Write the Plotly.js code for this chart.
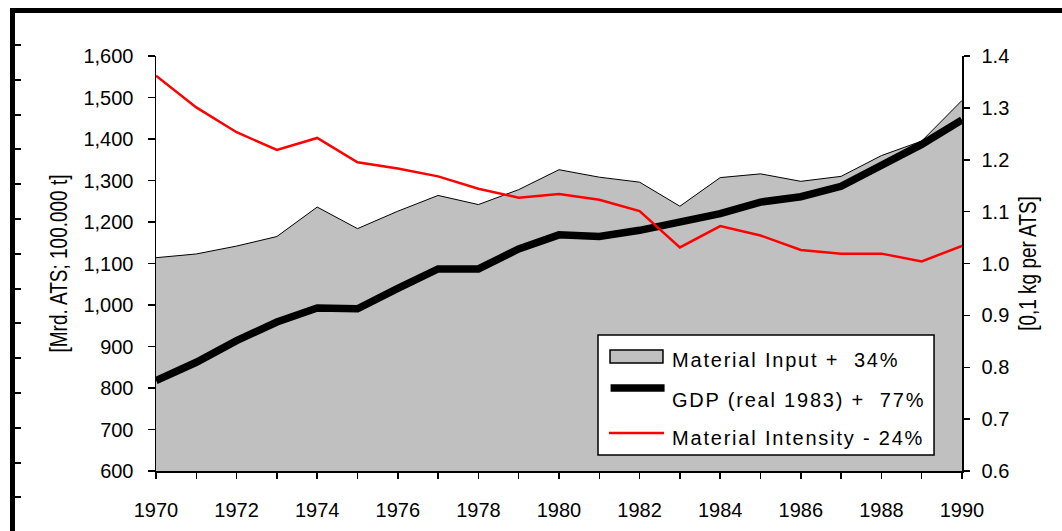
<!DOCTYPE html>
<html>
<head>
<meta charset="utf-8">
<script src="https://cdn.plot.ly/plotly-3.0.1.min.js"></script>
<style>
  html, body { margin: 0; padding: 0; background: #fff; }
  #wrap { position: relative; width: 1062px; height: 531px; overflow: hidden; }
  #chart { position: absolute; left: 0; top: 0; width: 1062px; height: 531px; }
  .frame { position: absolute; background: #000; z-index: 5; }
  .annotation-text { letter-spacing: 1.8px; }
</style>
</head>
<body>
<div id="wrap">
  <div id="chart"></div>
</div>
<script>
const years = [1970, 1971, 1972, 1973, 1974, 1975, 1976, 1977, 1978, 1979, 1980,
               1981, 1982, 1983, 1984, 1985, 1986, 1987, 1988, 1989, 1990];
const materialInput = [1114, 1123, 1142, 1165, 1236, 1184, 1226, 1264, 1242, 1278, 1326,
                       1308, 1296, 1238, 1307, 1316, 1298, 1310, 1360, 1395, 1493];
const gdp = [818, 862, 914, 959, 993, 991, 1040, 1087, 1087, 1135, 1169,
             1165, 1180, 1200, 1220, 1248, 1261, 1286, 1336, 1387, 1446];
const intensity = [1.362, 1.301, 1.253, 1.219, 1.242, 1.195, 1.183, 1.168, 1.144, 1.127, 1.134,
                   1.123, 1.101, 1.031, 1.072, 1.054, 1.026, 1.019, 1.019, 1.004, 1.034];
const legendLabels = ["Material Input +\u00a0 34%", "GDP (real 1983) +\u00a0 77%", "Material Intensity - 24%"];
const leftTitle = "[Mrd. ATS; 100.000 t]";
const rightTitle = "[0,1 kg per ATS]";

const FONT = "'Liberation Sans', Arial, Helvetica, sans-serif";

const traces = [
  {
    x: years, y: materialInput, type: 'scatter', mode: 'lines',
    fill: 'tozeroy', fillcolor: '#c0c0c0',
    line: {color: '#000', width: 1}, name: legendLabels[0],
    xaxis: 'x', yaxis: 'y', hoverinfo: 'skip'
  },
  {
    x: years, y: gdp, type: 'scatter', mode: 'lines',
    line: {color: '#000', width: 7.5}, name: legendLabels[1],
    xaxis: 'x', yaxis: 'y', hoverinfo: 'skip'
  },
  {
    x: years, y: intensity, type: 'scatter', mode: 'lines',
    line: {color: '#ff0000', width: 2.5}, name: legendLabels[2],
    xaxis: 'x', yaxis: 'y2', hoverinfo: 'skip'
  }
];

const layout = {
  width: 1062, height: 531,
  margin: {l: 156, r: 100, t: 56, b: 60, pad: 0},
  paper_bgcolor: '#fff', plot_bgcolor: '#fff',
  showlegend: false,
  font: {family: FONT, size: 20, color: '#000'},
  xaxis: {
    range: [1970, 1990], dtick: 2, tick0: 1970,
    showgrid: false, zeroline: false,
    showline: true, linecolor: '#000', linewidth: 1.5,
    ticks: 'outside', ticklen: 6, tickcolor: '#000', tickwidth: 1.5,
    minor: {dtick: 1, ticks: 'outside', ticklen: 6, tickcolor: '#000', tickwidth: 1.5, showgrid: false},
    ticklabelstandoff: 14,
    tickfont: {family: FONT, size: 20}
  },
  xaxis2: {
    overlaying: 'x', anchor: 'y', side: 'bottom',
    range: [1970, 1990], dtick: 1, tick0: 1970,
    showgrid: false, zeroline: false, showline: false,
    ticks: 'inside', ticklen: 6, tickcolor: '#000', tickwidth: 1.5,
    showticklabels: false
  },
  yaxis: {
    range: [600, 1600], dtick: 100, tickformat: ',',
    showgrid: false, zeroline: false,
    showline: true, linecolor: '#000', linewidth: 1.5,
    ticks: 'outside', ticklen: 7, tickcolor: '#000', tickwidth: 1.5,
    ticklabelstandoff: 10,
    tickfont: {family: FONT, size: 20},
    title: {text: leftTitle, font: {family: FONT, size: 19}, standoff: 12}
  },
  yaxis2: {
    overlaying: 'y', side: 'right', anchor: 'x',
    range: [0.6, 1.4], dtick: 0.1, tickformat: '.1f',
    showgrid: false, zeroline: false,
    showline: true, linecolor: '#000', linewidth: 1.5,
    ticks: 'outside', ticklen: 6, tickcolor: '#000', tickwidth: 1.5,
    ticklabelstandoff: 8,
    tickfont: {family: FONT, size: 20},
    title: {text: rightTitle, font: {family: FONT, size: 19}, standoff: 12}
  },
  yaxis3: {
    overlaying: 'y', side: 'right', anchor: 'x',
    range: [0.6, 1.4], dtick: 0.1,
    showgrid: false, zeroline: false, showline: false,
    ticks: 'inside', ticklen: 7, tickcolor: '#000', tickwidth: 1.5,
    showticklabels: false
  },
  shapes: [
    {type: 'rect', xref: 'paper', yref: 'paper', x0: 0.5484, x1: 0.9653, y0: 0.0386, y1: 0.3277,
     fillcolor: '#fff', line: {color: '#000', width: 1.5}, layer: 'above'},
    {type: 'rect', xref: 'paper', yref: 'paper', x0: 0.5633, x1: 0.6290, y0: 0.2602, y1: 0.2916,
     fillcolor: '#c0c0c0', line: {color: '#000', width: 1.5}, layer: 'above'},
    {type: 'line', xref: 'paper', yref: 'paper', x0: 0.5640, x1: 0.6310, y0: 0.2, y1: 0.2,
     line: {color: '#000', width: 7.5}, layer: 'above'},
    {type: 'line', xref: 'paper', yref: 'paper', x0: 0.5620, x1: 0.6303, y0: 0.0916, y1: 0.0916,
     line: {color: '#ff0000', width: 2.5}, layer: 'above'}
  ],
  annotations: [
    {xref: 'paper', yref: 'paper', x: 0.6377, y: 0.2675, xanchor: 'left', yanchor: 'middle',
     text: legendLabels[0], showarrow: false, font: {family: FONT, size: 20}},
    {xref: 'paper', yref: 'paper', x: 0.6377, y: 0.1711, xanchor: 'left', yanchor: 'middle',
     text: legendLabels[1], showarrow: false, font: {family: FONT, size: 20}},
    {xref: 'paper', yref: 'paper', x: 0.6377, y: 0.0795, xanchor: 'left', yanchor: 'middle',
     text: legendLabels[2], showarrow: false, font: {family: FONT, size: 20}}
  ]
};

Plotly.newPlot('chart', traces, layout, {staticPlot: true, displayModeBar: false}).then(function () {
  // make the rotated axis titles look condensed (tall, narrow letters) as in the original
  document.querySelectorAll('#chart .ytitle, #chart .y2title').forEach(function (t) {
    const bb = t.getBBox();
    const cx = bb.x + bb.width / 2, cy = bb.y + bb.height / 2;
    const tr = t.getAttribute('transform') || '';
    t.setAttribute('transform', tr + ' translate(' + cx + ',' + cy + ') scale(1,1.3) translate(' + (-cx) + ',' + (-cy) + ')');
  });
  const wrap = document.getElementById('wrap');
  function bar(l, t, w, h) {
    const d = document.createElement('div');
    d.className = 'frame';
    d.style.left = l + 'px'; d.style.top = t + 'px';
    d.style.width = w + 'px'; d.style.height = h + 'px';
    wrap.appendChild(d);
  }
  bar(10, 8, 1052, 5);
  bar(10, 8, 5, 523);
  for (let k = 0; k < 14; k++) {
    bar(15, Math.round(44 + 34.8 * k), 6, 2);
  }
});
</script>
</body>
</html>
